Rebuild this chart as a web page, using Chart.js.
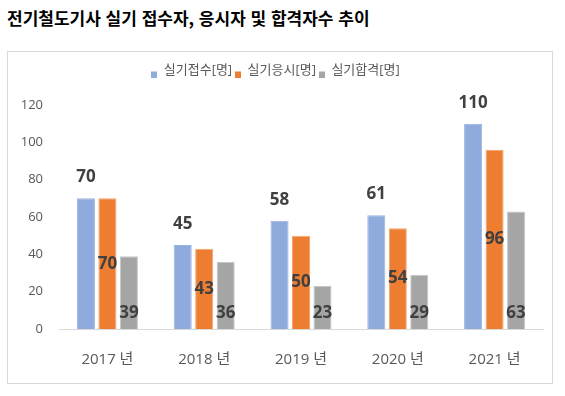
<!DOCTYPE html>
<html lang="ko">
<head>
<meta charset="utf-8">
<script src="https://cdn.jsdelivr.net/npm/chart.js@4"></script>
<style>
  html, body { margin: 0; padding: 0; background: #fff; }
  body { width: 565px; height: 396px; position: relative; overflow: hidden; }
  #title {
    position: absolute; left: 7px; top: 7px;
    font: bold 17px "Noto Sans CJK KR", sans-serif; color: #000;
    line-height: 22px; white-space: nowrap;
  }
  #frame {
    position: absolute; left: 7px; top: 51px;
    width: 544px; height: 331px;
    border: 1px solid #d9d9d9;
  }
  #wrap { position: relative; width: 544px; height: 331px; }
</style>
</head>
<body>
<div id="title">전기철도기사 실기 접수자, 응시자 및 합격자수 추이</div>
<div id="frame"><div id="wrap"><canvas id="chart"></canvas></div></div>
<script>
// 데이터
const years = ['2017 년', '2018 년', '2019 년', '2020 년', '2021 년'];
const applied = [70, 45, 58, 61, 110];   // 실기접수[명]
const tested = [70, 43, 50, 54, 96];     // 실기응시[명]
const passed = [39, 36, 23, 29, 63];     // 실기합격[명]
const yTicks = [0, 20, 40, 60, 80, 100, 120];

const FONT = '"Open Sans", "Noto Sans CJK KR", sans-serif';
const COLORS = ['#8FAADC', '#ED7D31', '#A5A5A5'];

// 범례 사각형: 글자 아래쪽에 맞춘 작은 네모
function legendBox(color) {
  const c = document.createElement('canvas');
  c.width = 6;
  c.height = 14;
  const g = c.getContext('2d');
  g.fillStyle = color;
  g.fillRect(0, 8, 6, 6);
  return c;
}

// 막대 값 라벨 (datalabels 대신 직접 그림)
const valueLabels = {
  id: 'valueLabels',
  afterDatasetsDraw(chart) {
    const ctx = chart.ctx;
    ctx.save();
    ctx.font = 'bold 17px ' + FONT;
    ctx.fillStyle = '#404040';
    ctx.textAlign = 'center';
    ctx.textBaseline = 'middle';
    chart.data.datasets.forEach((ds, i) => {
      const meta = chart.getDatasetMeta(i);
      meta.data.forEach((bar, j) => {
        let y;
        if (i === 0) y = bar.y - 21;                  // 막대 위
        else if (i === 1) y = (bar.y + bar.base) / 2; // 가운데
        else y = bar.base - 16;                       // 바닥 안쪽
        ctx.fillText(String(ds.data[j]), bar.x, y);
      });
    });
    ctx.restore();
  }
};

// 범례 높이 고정
const legendSize = {
  id: 'legendSize',
  beforeLayout(chart) {
    const lg = chart.legend;
    if (lg && !lg._patched) {
      const fit = lg.fit;
      lg.fit = function() { fit.call(this); this.height = 44; };
      lg._patched = true;
    }
  }
};

new Chart(document.getElementById('chart'), {
  type: 'bar',
  data: {
    labels: years,
    datasets: [
      { label: '실기접수[명]', data: applied, backgroundColor: COLORS[0], borderColor: '#9BB3E0', borderWidth: 1 },
      { label: '실기응시[명]', data: tested, backgroundColor: COLORS[1], borderColor: '#F3A46F', borderWidth: 1 },
      { label: '실기합격[명]', data: passed, backgroundColor: COLORS[2], borderColor: '#C6C6C6', borderWidth: 1 }
    ]
  },
  options: {
    responsive: true,
    maintainAspectRatio: false,
    animation: false,
    categoryPercentage: 0.666,
    barPercentage: 0.84,
    layout: { padding: { top: 9, right: 9, bottom: 0, left: 0 } },
    plugins: {
      legend: {
        position: 'top',
        labels: {
          usePointStyle: true,
          pointStyleWidth: 6,
          boxHeight: 13,
          padding: 3,
          color: '#595959',
          font: { family: FONT, size: 13 },
          generateLabels(chart) {
            const items = Chart.defaults.plugins.legend.labels.generateLabels(chart);
            items.forEach((it, i) => { it.pointStyle = legendBox(COLORS[i]); });
            return items;
          }
        }
      },
      tooltip: { enabled: false }
    },
    scales: {
      x: {
        grid: { display: false, drawTicks: false },
        border: { display: true, color: '#d9d9d9', width: 1 },
        ticks: { color: '#595959', padding: 22, font: { family: FONT, size: 15 } },
        afterFit(scale) { scale.height = 54; }
      },
      y: {
        min: 0, max: 120,
        grid: { display: false, drawTicks: false },
        border: { display: false },
        afterBuildTicks(scale) { scale.ticks = yTicks.map(v => ({ value: v })); },
        ticks: { color: '#595959', padding: 16, font: { family: FONT, size: 13 } },
        afterFit(scale) { scale.width = 51; }
      }
    }
  },
  plugins: [valueLabels, legendSize]
});
</script>
</body>
</html>
